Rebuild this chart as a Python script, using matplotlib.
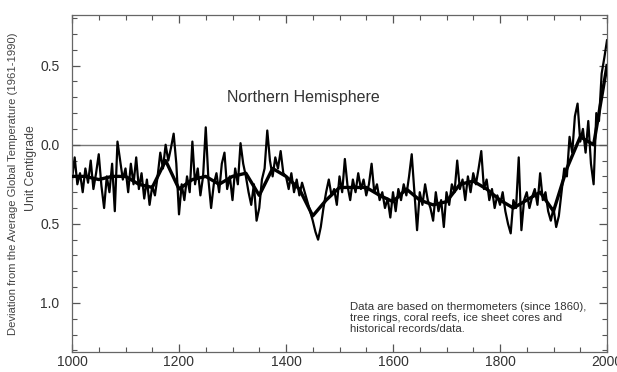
import numpy as np
import matplotlib
matplotlib.use("Agg")
import matplotlib.pyplot as plt
from matplotlib.ticker import MultipleLocator, FixedLocator

# ---- data ----
years = list(range(1000, 2001, 5))
temps = [
    # 1000-1095
    -0.22, -0.08, -0.25, -0.18, -0.30, -0.15, -0.24, -0.10, -0.28, -0.18,
    -0.06, -0.26, -0.40, -0.20, -0.30, -0.12, -0.42, 0.02, -0.10, -0.22,
    # 1100-1195
    -0.15, -0.30, -0.12, -0.25, -0.08, -0.28, -0.18, -0.34, -0.22, -0.38,
    -0.26, -0.32, -0.20, -0.05, -0.15, 0.00, -0.10, -0.02, 0.07, -0.12,
    # 1200-1295
    -0.44, -0.25, -0.35, -0.20, -0.30, 0.02, -0.25, -0.15, -0.32, -0.20,
    0.11, -0.22, -0.40, -0.25, -0.18, -0.30, -0.12, -0.05, -0.28, -0.20,
    # 1300-1395
    -0.35, -0.15, -0.25, 0.01, -0.12, -0.20, -0.30, -0.38, -0.25, -0.48,
    -0.40, -0.22, -0.15, 0.09, -0.10, -0.20, -0.08, -0.15, -0.04, -0.18,
    # 1400-1495
    -0.20, -0.28, -0.18, -0.30, -0.22, -0.32, -0.24, -0.30, -0.36, -0.42,
    -0.48, -0.55, -0.60, -0.52, -0.40, -0.30, -0.22, -0.32, -0.28, -0.38,
    # 1500-1595
    -0.20, -0.30, -0.09, -0.26, -0.35, -0.22, -0.30, -0.18, -0.28, -0.22,
    -0.32, -0.25, -0.12, -0.30, -0.25, -0.35, -0.30, -0.40, -0.34, -0.46,
    # 1600-1695
    -0.30, -0.42, -0.28, -0.35, -0.25, -0.32, -0.20, -0.06, -0.30, -0.54,
    -0.30, -0.38, -0.25, -0.35, -0.40, -0.48, -0.30, -0.42, -0.35, -0.52,
    # 1700-1795
    -0.30, -0.38, -0.25, -0.30, -0.10, -0.28, -0.22, -0.35, -0.20, -0.30,
    -0.18, -0.25, -0.15, -0.04, -0.28, -0.22, -0.35, -0.28, -0.40, -0.32,
    # 1800-1895
    -0.38, -0.30, -0.42, -0.50, -0.56, -0.35, -0.40, -0.08, -0.54, -0.35,
    -0.30, -0.40, -0.33, -0.28, -0.38, -0.18, -0.35, -0.30, -0.42, -0.48,
    # 1900-1995
    -0.40, -0.52, -0.45, -0.30, -0.15, -0.20, 0.05, -0.05, 0.18, 0.26,
    0.02, 0.10, -0.05, 0.15, -0.12, -0.25, 0.20, 0.15, 0.45, 0.55,
    # 2000
    0.66,
]

smooth_years = list(range(1000, 2001, 25))
smooth_temps = [
    -0.20, -0.20, -0.22, -0.20, -0.20, -0.25, -0.27, -0.10, -0.28, -0.22,
    -0.20, -0.25, -0.20, -0.18, -0.32, -0.15, -0.20, -0.28, -0.45, -0.35,
    -0.27, -0.27, -0.27, -0.32, -0.36, -0.28, -0.35, -0.38, -0.36, -0.25,
    -0.23, -0.28, -0.35, -0.40, -0.35, -0.30, -0.42, -0.15, 0.05, 0.00,
    0.50,
]

ytick_vals = [0.5, 0.0, -0.5, -1.0]
ytick_labels = ["0.5", "0.0", "0.5", "1.0"]
xtick_vals = [1000, 1200, 1400, 1600, 1800, 2000]
xtick_labels = ["1000", "1200", "1400", "1600", "1800", "2000"]

title = "Northern Hemisphere"
ylabel1 = "Deviation from the Average Global Temperature (1961-1990)"
ylabel2 = "Unit Centigrade"
note = ("Data are based on thermometers (since 1860),\n"
        "tree rings, coral reefs, ice sheet cores and\n"
        "historical records/data.")

# ---- figure ----
plt.rcParams['font.family'] = ['Liberation Sans', 'DejaVu Sans']
fig = plt.figure(figsize=(6.17, 3.72), dpi=100)
ax = fig.add_axes([72/617, 20/372, (607-72)/617, (352-15)/372])

ax.axhline(0.0, color="#777777", lw=1.0, zorder=1)
ax.plot(years, temps, color="black", lw=1.6, zorder=2)
ax.plot(smooth_years, smooth_temps, color="black", lw=2.4, zorder=3)

ax.set_xlim(1000, 2000)
ax.set_ylim(-1.31, 0.82)

ax.xaxis.set_major_locator(FixedLocator(xtick_vals))
ax.set_xticklabels(xtick_labels)
ax.xaxis.set_minor_locator(MultipleLocator(50))
ax.yaxis.set_major_locator(FixedLocator(ytick_vals))
ax.set_yticklabels(ytick_labels)
ax.yaxis.set_minor_locator(MultipleLocator(0.1))

ax.tick_params(which="both", direction="in", top=True, right=True,
               color="#555555", labelcolor="#333333", labelsize=10)
ax.tick_params(which="major", length=6, width=0.9)
ax.tick_params(which="minor", length=3.5, width=0.8)
ax.tick_params(axis="x", pad=2)
ax.tick_params(axis="y", pad=9)
for s in ax.spines.values():
    s.set_color("#666666")
    s.set_linewidth(0.9)

ax.text(1432, 0.30, title, ha="center", va="center", fontsize=11.5,
        color="#333333")
ax.text(1520, -0.995, note, ha="left", va="top", fontsize=8.2,
        color="#333333", linespacing=1.1)

fig.text(13/617, 1 - 184/372, ylabel1, rotation=90, ha="center", va="center",
         fontsize=8.1, color="#444444")
fig.text(31/617, 1 - 168/372, ylabel2, rotation=90, ha="center", va="center",
         fontsize=8.8, color="#444444")

fig.savefig("out.png", dpi=100)
